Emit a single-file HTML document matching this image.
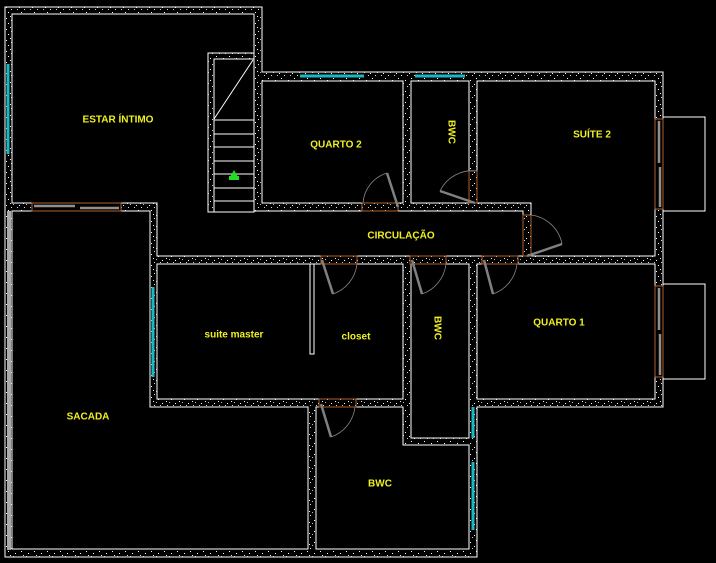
<!DOCTYPE html>
<html><head><meta charset="utf-8"><style>
html,body{margin:0;padding:0;background:#000;}
svg{display:block}
text{font-family:"Liberation Sans",sans-serif;font-weight:bold;font-size:10px;fill:#f0f020;text-anchor:middle;dominant-baseline:middle}
</style></head><body>
<svg width="716" height="563" viewBox="0 0 716 563" xmlns="http://www.w3.org/2000/svg">
<defs>
<pattern id="d" width="13" height="11" patternUnits="userSpaceOnUse">
<rect width="13" height="11" fill="#000"/>
<rect x="2" y="3" width="1" height="1" fill="#fff"/>
<rect x="8" y="1" width="1" height="1" fill="#fff"/>
<rect x="6" y="7" width="1" height="1" fill="#fff"/>
<rect x="11" y="9" width="1" height="1" fill="#ddd"/>
<rect x="4" y="9" width="1" height="1" fill="#ccc"/>
<rect x="10" y="5" width="1" height="1" fill="#eee"/>
<rect x="0" y="6" width="1" height="1" fill="#bbb"/>
</pattern>
</defs>
<rect width="716" height="563" fill="#000"/>
<g stroke="#fff" stroke-width="1.3" shape-rendering="crispEdges">
<polygon points="5,7 262,7 262,72 663,72 663,407 477,407 477,557 5,557" fill="url(#d)"/>
<polygon points="12,14 254,14 254,211 523,211 523,256 157,256 157,203 12,203" fill="#000"/>
<rect x="208" y="53" width="46" height="159" fill="url(#d)"/>
<rect x="214" y="59" width="40" height="153" fill="#000"/>
<rect x="262" y="81" width="141" height="122" fill="#000"/>
<rect x="411" y="81" width="58" height="122" fill="#000"/>
<polygon points="477,81 655,81 655,256 531,256 531,203 477,203" fill="#000"/>
<rect x="477" y="264" width="178" height="135" fill="#000"/>
<rect x="157" y="264" width="246" height="135" fill="#000"/>
<rect x="310" y="264" width="4" height="90" fill="#000"/>
<rect x="411" y="264" width="58" height="174" fill="#000"/>
<polygon points="316,407 403,407 403,445 469,445 469,549 316,549" fill="#000"/>
<polygon points="12,211 150,211 150,407 308,407 308,549 12,549" fill="#000"/>
<rect x="663" y="117" width="42" height="94" fill="none"/>
<rect x="663" y="284" width="42" height="95" fill="none"/>
</g>
<rect x="7" y="211" width="4" height="339" fill="#aaa"/>
<line x1="5" y1="211" x2="5" y2="557" stroke="#fff"/>
<g stroke="#fff" stroke-width="1">
<line x1="253" y1="60" x2="214" y2="119"/>
<line x1="214" y1="120" x2="254" y2="120"/>
<line x1="214" y1="134" x2="254" y2="134"/>
<line x1="214" y1="147" x2="254" y2="147"/>
<line x1="214" y1="161" x2="254" y2="161"/>
<line x1="214" y1="174" x2="254" y2="174"/>
<line x1="214" y1="188" x2="254" y2="188"/>
<line x1="214" y1="201" x2="254" y2="201"/>
</g>
<polygon points="234,170 230,177 238,177" fill="#22dd22"/>
<rect x="229" y="176" width="10" height="4" fill="#22dd22"/>
<g stroke="#1bb8c0" stroke-width="3">
<line x1="300" y1="76" x2="364" y2="76"/>
<line x1="415" y1="76" x2="465" y2="76"/>
<line x1="8" y1="64" x2="8" y2="154"/>
<line x1="153" y1="287" x2="153" y2="377"/>
<line x1="473" y1="407" x2="473" y2="438"/>
<line x1="473" y1="462" x2="473" y2="530"/>
</g>
<g fill="#000" stroke="#b0602a" stroke-width="1">
<rect x="32" y="203" width="89" height="8"/>
<rect x="655" y="119" width="8" height="90"/>
<rect x="655" y="286" width="8" height="91"/>
</g>
<g stroke="#909090" stroke-width="2.5">
<line x1="34" y1="206" x2="75" y2="206"/><line x1="80" y1="208" x2="119" y2="208"/>
<line x1="659" y1="121" x2="659" y2="163"/><line x1="660" y1="167" x2="660" y2="207"/>
<line x1="659" y1="288" x2="659" y2="330"/><line x1="660" y1="334" x2="660" y2="375"/>
</g>
<g fill="none" stroke="#b0602a" stroke-width="1">
<rect x="362" y="203" width="36" height="8"/>
<rect x="469" y="171" width="8" height="32"/>
<rect x="523" y="215" width="8" height="41"/>
<rect x="321" y="256" width="36" height="8"/>
<rect x="410" y="256" width="36" height="8"/>
<rect x="482" y="256" width="36" height="8"/>
<rect x="319" y="399" width="37" height="8"/>
</g>
<g fill="none" stroke="#888" stroke-width="0.8">
<path d="M387,173 A34,34 0 0 0 363,203"/>
<path d="M440,191 A36,36 0 0 1 477,171"/>
<path d="M562,244 A36,36 0 0 0 531,215"/>
<path d="M333,294 A36,36 0 0 0 357,264"/>
<path d="M422,294 A36,36 0 0 0 446,264"/>
<path d="M493,294 A36,36 0 0 0 517,264"/>
<path d="M331,437 A36,36 0 0 0 355,407"/>
</g>
<g stroke="#808080" stroke-width="2.5">
<line x1="398" y1="207" x2="387" y2="173"/>
<line x1="475" y1="203" x2="440" y2="191"/>
<line x1="527" y1="256" x2="562" y2="244"/>
<line x1="322" y1="260" x2="333" y2="294"/>
<line x1="412" y1="260" x2="422" y2="294"/>
<line x1="484" y1="260" x2="493" y2="294"/>
<line x1="321" y1="404" x2="331" y2="437"/>
</g>
<text x="118" y="120">ESTAR ÍNTIMO</text>
<text x="336" y="145">QUARTO 2</text>
<text x="451" y="132" transform="rotate(90 451 132)">BWC</text>
<text x="592" y="135">SUÍTE 2</text>
<text x="401" y="236">CIRCULAÇÃO</text>
<text x="234" y="335">suite master</text>
<text x="356" y="337">closet</text>
<text x="437" y="328" transform="rotate(90 437 328)">BWC</text>
<text x="559" y="323">QUARTO 1</text>
<text x="88" y="417">SACADA</text>
<text x="380" y="484">BWC</text>
</svg>
</body></html>
